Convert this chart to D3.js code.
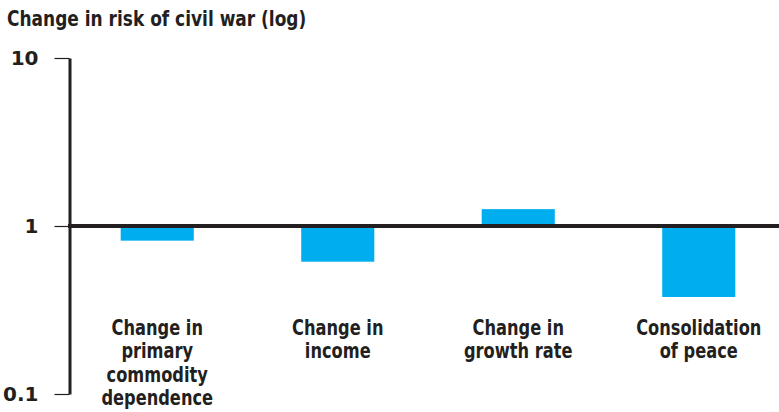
<!DOCTYPE html>
<html><head><meta charset="utf-8">
<script src="https://cdn.jsdelivr.net/npm/d3@7"></script>
<style>
body{margin:0;background:#fff;}
svg text{font-family:"DejaVu Sans Condensed","DejaVu Sans","Liberation Sans",sans-serif;font-weight:bold;fill:#231f20;}
</style></head>
<body><svg id="c" width="779" height="412"></svg>
<script>
const categories = [
  ["Change in","primary","commodity","dependence"],
  ["Change in","income"],
  ["Change in","growth rate"],
  ["Consolidation","of peace"]
];
const values = [0.818, 0.613, 1.26, 0.378];
const tickValues = [0.1, 1, 10];
const tickLabels = ["0.1", "1", "10"];
const title = "Change in risk of civil war (log)";

const svg = d3.select("#c");
const y = d3.scaleLog().domain([0.1, 10]).range([394, 58]);
const x = d3.scaleBand().domain(d3.range(categories.length)).range([67, 789])
  .paddingInner(0.595).paddingOuter(0.2975);

svg.append("g").attr("transform", "translate(7,26) scale(0.9,1)")
  .append("text").style("font-size", "21px").text(title);

// bars
svg.selectAll("rect.bar").data(values).enter().append("rect")
  .attr("class", "bar")
  .attr("x", (d, i) => x(i))
  .attr("width", x.bandwidth())
  .attr("y", d => Math.min(y(d), y(1)))
  .attr("height", d => Math.abs(y(d) - y(1)))
  .attr("fill", "#00aeef");

// axis
const ax = svg.append("g").attr("transform", "translate(69.5,0)")
  .call(d3.axisLeft(y).tickValues(tickValues).tickFormat((d, i) => tickLabels[i]).tickSize(15).tickSizeOuter(0).tickPadding(16));
ax.select(".domain").attr("stroke", "#231f20").attr("stroke-width", 3);
ax.selectAll(".tick line").attr("stroke", "#231f20").attr("stroke-width", 1.2);
ax.selectAll(".tick text").style("font-family", "'DejaVu Sans','Liberation Sans',sans-serif").style("font-size", "20px").attr("fill", "#231f20");

// baseline at 1
svg.append("line").attr("x1", 68).attr("x2", 779).attr("y1", y(1)).attr("y2", y(1))
  .attr("stroke", "#231f20").attr("stroke-width", 4);

// category labels
const lab = svg.selectAll("g.cat").data(categories).enter().append("g")
  .attr("class", "cat")
  .attr("transform", (d, i) => `translate(${x(i) + x.bandwidth() / 2},335) scale(0.86,1)`)
  .append("text")
  .attr("text-anchor", "middle")
  .style("font-size", "21px");
lab.selectAll("tspan").data(d => d).enter().append("tspan")
  .attr("x", 0)
  .attr("dy", (d, i) => i === 0 ? 0 : 23.5)
  .text(d => d);
</script></body></html>
